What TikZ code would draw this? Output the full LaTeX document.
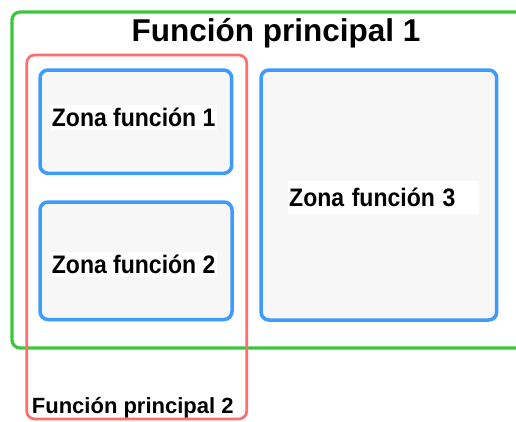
\documentclass[tikz,border=0pt]{standalone}
\usepackage{fontspec}
\setmainfont{Liberation Sans}
\definecolor{fgreen}{HTML}{3CC83C}
\definecolor{fred}{HTML}{FF6E6E}
\definecolor{fblue}{HTML}{3D9BFF}
\definecolor{fgray}{HTML}{F7F7F7}
\begin{document}
\begin{tikzpicture}[x=1pt,y=-1pt,
  frame/.style={rounded corners=8pt, line width=3.2pt, anchor=north west, inner sep=0pt, outer sep=0pt},
  zone/.style={draw=fblue, fill=fgray, rounded corners=8pt, line width=3.5pt, anchor=north west, inner sep=0pt, outer sep=0pt},
  zlabel/.style={fill=white, inner xsep=1.5pt, inner ysep=3pt, font=\bfseries\fontsize{23}{26}\selectfont, anchor=base west}]
\useasboundingbox (0,0) rectangle (516,421);
\node[frame, draw=fgreen, minimum width=528pt, minimum height=336pt] (fp1) at (12,12) {};
\node[frame, draw=fred, line width=2.7pt, minimum width=220pt, minimum height=364pt] (fp2) at (26.7,55) {};
\node[zone, minimum width=191.7pt, minimum height=103.3pt] (z1) at (40,70) {};
\node[zone, minimum width=192pt, minimum height=117.5pt] (z2) at (40,202) {};
\node[zone, minimum width=235.7pt, minimum height=250pt] (z3) at (261,70) {};
\node[font=\bfseries\fontsize{31.5}{36}\selectfont, anchor=base, inner sep=0pt] (t1) at (276,41.7) {Función principal 1};
\node[font=\bfseries\fontsize{22}{26}\selectfont, anchor=base west, inner sep=0pt] (t2) at (31.7,413.3) {Función principal 2};
\node[zlabel] (l1) at (50.2,126.7) {\scalebox{1}[1.1]{Zona función 1}};
\node[zlabel] (l2) at (50.2,273.3) {\scalebox{1}[1.1]{Zona función 2}};
\node[zlabel, inner xsep=1pt, inner ysep=7pt, text width=189pt, align=left] (l3) at (288,206.6) {\scalebox{1}[1.1]{Zona función 3}};
\end{tikzpicture}
\end{document}
